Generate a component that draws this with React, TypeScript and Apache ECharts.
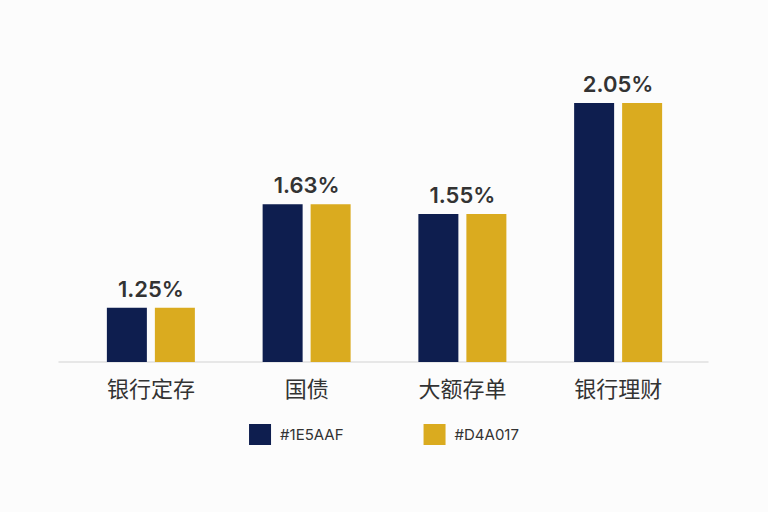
import { useEffect, useRef } from "react";
import * as echarts from "echarts";

const categories = ["银行定存", "国债", "大额存单", "银行理财"];
// yields shown above each pair
const rates = ["1.25", "1.63", "1.55", "2.05"];
// bar heights as drawn in the picture (axis starts at 1.0)
const barValues = [1.22, 1.64, 1.6, 2.05];
const seriesNames = ["#1E5AAF", "#D4A017"];
const seriesColors = ["#0E1E4F", "#DAAB1F"];

const font = "Inter, 'Noto Sans CJK SC', 'Noto Sans', sans-serif";

export default function App() {
  const chartRef = useRef<HTMLDivElement>(null);

  useEffect(() => {
    document.body.style.margin = "0";
    if (!chartRef.current) return;
    const chart = echarts.init(chartRef.current, null, { renderer: "svg" });
    const option = {
      animation: false,
      backgroundColor: "#fcfcfc",
      textStyle: { fontFamily: font },
      grid: [
        { left: 73, right: 72, top: 66, bottom: 150 },
        { left: 59, right: 60, top: 66, bottom: 150 },
      ],
      legend: {
        data: seriesNames,
        left: "center",
        top: 419,
        icon: "rect",
        itemWidth: 22,
        itemHeight: 21,
        itemGap: 80,
        textStyle: { fontSize: 15, color: "#333", padding: [0, 0, 0, 4], fontFamily: font },
      },
      xAxis: [
        {
          type: "category",
          gridIndex: 0,
          data: categories,
          axisLine: { show: false },
          axisTick: { show: false },
          axisLabel: { fontSize: 22, color: "#333", margin: 16, fontFamily: font },
        },
        {
          type: "value",
          gridIndex: 1,
          min: 0,
          max: 1,
          axisLine: { show: true, onZero: false, lineStyle: { color: "#e0e0e0", width: 1.5 } },
          axisTick: { show: false },
          axisLabel: { show: false },
          splitLine: { show: false },
        },
      ],
      yAxis: [
        { type: "value", gridIndex: 0, min: 1, max: 2.2, show: false },
        { type: "value", gridIndex: 1, min: 0, max: 1, show: false },
      ],
      series: seriesNames.map((name, i) => ({
        name,
        type: "bar",
        xAxisIndex: 0,
        yAxisIndex: 0,
        data: barValues,
        barWidth: 40,
        barGap: "20%",
        itemStyle: { color: seriesColors[i] },
        label: {
          show: i === 0,
          position: "top",
          distance: 8,
          offset: [24, 0],
          formatter: (p: any) => rates[p.dataIndex] + "%",
          fontSize: 22,
          fontWeight: 600,
          color: "#333",
          fontFamily: font,
        },
      })),
    };
    chart.setOption(option);
    return () => {
      chart.dispose();
    };
  }, []);

  return <div ref={chartRef} style={{ width: 768, height: 512 }}></div>;
}
